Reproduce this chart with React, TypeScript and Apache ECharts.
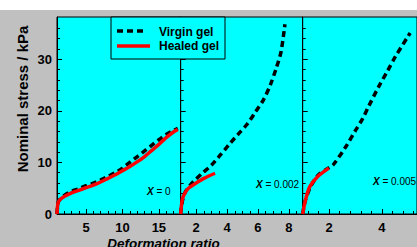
import React, { useEffect, useRef } from 'react';
import * as echarts from 'echarts';

const SERIES_NAMES = ['Virgin gel', 'Healed gel'];
const PANEL_X_VALUES = ['0', '0.002', '0.005'];
const Y_TITLE = 'Nominal stress / kPa';
const X_TITLE = 'Deformation ratio';

// x-axis ranges per panel
const X_MIN = [1, 1, 1];
const X_MAX = [18, 8.9, 5.33];
const Y_MIN = 0;
const Y_MAX = 38.2;

// tick labels / tick positions
const X_MAJOR = [[5, 10, 15], [2, 4, 6, 8], [2, 4]];
const X_MINOR = [
  [2, 3, 4, 6, 7, 8, 9, 11, 12, 13, 14, 16, 17],
  [1.5, 2.5, 3, 3.5, 4.5, 5, 5.5, 6.5, 7, 7.5, 8.5],
  [1.2, 1.6, 2.4, 2.8, 3.2, 3.6, 4.4, 4.8, 5.2],
];
const Y_MAJOR = [0, 10, 20, 30];
const Y_MINOR = [2, 4, 6, 8, 12, 14, 16, 18, 22, 24, 26, 28, 32, 34, 36];

// Panel 1: X = 0
const virgin0: [number, number][] = [
  [1, 0], [1.08, 1.5], [1.2, 2.4], [1.5, 3.0], [2, 3.6], [3, 4.4], [4, 4.9], [5, 5.5],
  [6, 6.0], [7, 6.6], [8, 7.3], [9, 8.0], [10, 8.9], [11, 10.0], [12, 11.1], [13, 12.2],
  [14, 13.3], [15, 14.4], [16, 15.4], [17, 16.2], [17.6, 16.6],
];
const healed0: [number, number][] = [
  [1, 0], [1.07, 1.4], [1.18, 2.3], [1.5, 2.9], [2, 3.4], [3, 4.1], [4, 4.6], [5, 5.1],
  [6, 5.6], [7, 6.2], [8, 6.9], [9, 7.6], [10, 8.4], [11, 9.2], [12, 10.1], [13, 11.1],
  [14, 12.3], [15, 13.5], [16, 14.8], [17, 15.9], [17.6, 16.4],
];
// Panel 2: X = 0.002
const virgin1: [number, number][] = [
  [1, 0], [1.05, 1.6], [1.15, 3.0], [1.3, 4.3], [1.7, 5.9], [2, 6.8], [2.4, 7.9], [3, 9.5],
  [3.5, 11.2], [4.2, 13.7], [4.7, 15.4], [5.3, 17.4], [5.8, 19.6], [6.35, 22.1], [6.8, 25.0],
  [7.2, 28.4], [7.5, 31.5], [7.75, 36.8],
];
const healed1: [number, number][] = [
  [1, 0], [1.05, 1.7], [1.13, 3.1], [1.28, 4.1], [1.5, 5.0], [2, 6.0], [2.5, 6.9], [3.22, 7.9],
];
// Panel 3: X = 0.005
const virgin2: [number, number][] = [
  [1, 0], [1.1, 2.6], [1.3, 5.3], [1.6, 7.6], [2, 9.0], [2.15, 9.5], [2.64, 13.1], [3, 16.2],
  [3.26, 18.4], [3.5, 20.9], [3.88, 24.7], [4.2, 27.6], [4.51, 30.5], [5.07, 35.1],
];
const healed2: [number, number][] = [
  [1, 0], [1.1, 2.6], [1.27, 5.3], [1.58, 7.3], [1.99, 8.9],
];

const VIRGIN = [virgin0, virgin1, virgin2];
const HEALED = [healed0, healed1, healed2];

const FONT = '"Liberation Sans", Arial, sans-serif';
const CYAN = '#00ffff';

const GRIDS = [
  { left: 57, top: 17, width: 123.7, height: 197 },
  { left: 180.7, top: 17, width: 122, height: 197 },
  { left: 302.7, top: 17, width: 118, height: 197 },
];

export default function App() {
  const ref = useRef<HTMLDivElement>(null);
  useEffect(() => {
    const chart = echarts.init(ref.current!, null, { renderer: 'svg' });
    const xAxis: any[] = [];
    const yAxis: any[] = [];
    for (let i = 0; i < 3; i++) {
      xAxis.push({
        gridIndex: i, type: 'value', position: 'bottom', min: X_MIN[i], max: X_MAX[i],
        axisLine: { show: true, onZero: false, lineStyle: { color: '#000', width: 1 } },
        axisTick: { show: true, inside: true, length: 5, customValues: X_MAJOR[i], lineStyle: { color: '#000' } },
        axisLabel: { show: true, customValues: X_MAJOR[i], color: '#000', fontWeight: 'bold', fontSize: 13, fontFamily: FONT, margin: 7 },
        splitLine: { show: false },
      });
      yAxis.push({
        gridIndex: i, type: 'value', position: 'left', min: Y_MIN, max: Y_MAX,
        axisLine: { show: true, onZero: false, lineStyle: { color: '#000', width: 1 } },
        axisTick: { show: true, inside: true, length: 5, customValues: Y_MAJOR, lineStyle: { color: '#000' } },
        axisLabel: { show: i === 0, customValues: Y_MAJOR, color: '#000', fontWeight: 'bold', fontSize: 13, fontFamily: FONT, margin: 5 },
        splitLine: { show: false },
      });
    }
    for (let i = 0; i < 3; i++) {
      xAxis.push({
        gridIndex: i, type: 'value', position: 'bottom', min: X_MIN[i], max: X_MAX[i],
        axisLine: { show: false },
        axisTick: { show: true, inside: true, length: 3, customValues: X_MINOR[i], lineStyle: { color: '#000' } },
        axisLabel: { show: false },
        splitLine: { show: false },
      });
      yAxis.push({
        gridIndex: i, type: 'value', position: 'left', min: Y_MIN, max: Y_MAX,
        axisLine: { show: false },
        axisTick: { show: true, inside: true, length: 3, customValues: Y_MINOR, lineStyle: { color: '#000' } },
        axisLabel: { show: false },
        splitLine: { show: false },
      });
    }
    const series: any[] = [];
    for (let i = 0; i < 3; i++) {
      series.push({
        name: SERIES_NAMES[0], type: 'line', xAxisIndex: i, yAxisIndex: i, data: VIRGIN[i],
        showSymbol: false, smooth: 0.3, z: 3,
        lineStyle: { color: '#000', width: 3.5, type: [6, 4] },
      });
      series.push({
        name: SERIES_NAMES[1], type: 'line', xAxisIndex: i, yAxisIndex: i, data: HEALED[i],
        showSymbol: false, smooth: 0.3, z: 4,
        lineStyle: { color: '#ff0000', width: 3.5 },
      });
    }
    const annPos = [
      { x: 147, y: 191 },
      { x: 256, y: 184 },
      { x: 373, y: 181 },
    ];
    const graphic: any[] = [
      { type: 'rect', z: -10, shape: { x: 0, y: 0, width: 417, height: 10 }, style: { fill: '#ffffff' } },
      { type: 'rect', z: 100, shape: { x: 111, y: 17, width: 114, height: 42 }, style: { fill: CYAN, stroke: '#000', lineWidth: 1 } },
      { type: 'line', z: 101, shape: { x1: 117, y1: 31, x2: 147, y2: 31 }, style: { stroke: '#000', lineWidth: 3.5, lineDash: [6, 4] } },
      { type: 'line', z: 101, shape: { x1: 117, y1: 46, x2: 150, y2: 46 }, style: { stroke: '#ff0000', lineWidth: 3.5 } },
      { type: 'text', z: 101, x: 159, y: 31.5, style: { text: SERIES_NAMES[0], fontSize: 12, fontWeight: 'bold', fontFamily: FONT, fill: '#000', verticalAlign: 'middle' } },
      { type: 'text', z: 101, x: 159, y: 46, style: { text: SERIES_NAMES[1], fontSize: 12, fontWeight: 'bold', fontFamily: FONT, fill: '#000', verticalAlign: 'middle' } },
      { type: 'text', z: 101, x: 22, y: 99, rotation: Math.PI / 2, style: { text: Y_TITLE, fontSize: 15, fontWeight: 'bold', fontFamily: FONT, fill: '#000', align: 'center', verticalAlign: 'middle' } },
      { type: 'text', z: 101, x: 163.5, y: 243, style: { text: X_TITLE, fontSize: 13.5, fontWeight: 'bold', fontStyle: 'italic', fontFamily: FONT, fill: '#000', align: 'center', verticalAlign: 'middle' } },
    ];
    PANEL_X_VALUES.forEach((v, i) => {
      graphic.push({
        type: 'text', z: 101, x: annPos[i].x, y: annPos[i].y,
        style: {
          text: '{i|X} = ' + v, fontSize: 10, fontFamily: FONT, fill: '#000', verticalAlign: 'middle',
          rich: { i: { fontSize: 10, fontStyle: 'italic', fontWeight: 'bold', fontFamily: FONT, fill: '#000' } },
        },
      });
    });
    chart.setOption({
      animation: false,
      backgroundColor: '#c0c0c0',
      grid: GRIDS.map((g) => ({ ...g, show: true, backgroundColor: CYAN, borderColor: '#000', borderWidth: 1, containLabel: false })),
      xAxis,
      yAxis,
      series,
      graphic,
    });
    return () => chart.dispose();
  }, []);
  return <div ref={ref} style={{ position: 'absolute', left: 0, top: 0, width: 417, height: 247 }} />;
}
